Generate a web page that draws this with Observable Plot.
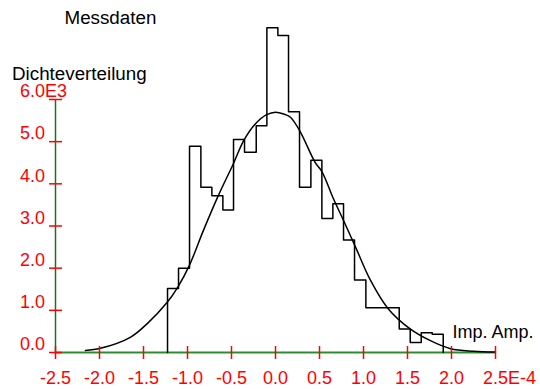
<!DOCTYPE html>
<html>
<head>
<meta charset="utf-8">
<script src="https://cdn.jsdelivr.net/npm/d3@7"></script>
<script src="https://cdn.jsdelivr.net/npm/@observablehq/plot@0.6"></script>
<style>
  html, body { margin: 0; padding: 0; background: #fff; }
  #chart svg { display: block; }
</style>
</head>
<body>
<div id="chart"></div>
<script>
// Histogram (Messdaten): bin edges (x in units of 1E-4) and density values
const binEdges = [-1.227, -1.102, -0.977, -0.848, -0.723, -0.598, -0.477, -0.352, -0.219, -0.098,
  0.027, 0.148, 0.273, 0.402, 0.527, 0.652, 0.773, 0.898, 1.027, 1.152, 1.277, 1.406, 1.531,
  1.656, 1.781, 1.906];
const binDensity = [1520, 2000, 4890, 3920, 3720, 3380, 5050, 4750, 5380, 7700, 7520, 5710, 3920,
  4560, 3180, 3530, 2670, 1720, 1060, 1060, 1060, 560, 240, 470, 430];

// Fitted density curve
const curveX = [-2.16, -1.99, -1.65, -1.46, -1.23, -1.11, -0.98, -0.82, -0.65, -0.48, -0.36, -0.23,
  -0.10, 0.00, 0.10, 0.17, 0.28, 0.45, 0.53, 0.66, 0.78, 0.91, 1.08, 1.28, 1.53, 1.76, 1.99, 2.25, 2.50];
const curveY = [50, 100, 360, 680, 1190, 1550, 2060, 2890, 3720, 4470, 5030, 5420,
  5640, 5700, 5650, 5580, 5240, 4510, 4280, 3640, 3100, 2500, 1710, 1040, 560, 280, 90, 30, 10];

// Axes ticks and labels
const xTicks = [-2.5, -2.0, -1.5, -1.0, -0.5, 0.0, 0.5, 1.0, 1.5, 2.0, 2.5];
const xTickLabels = ["-2.5", "-2.0", "-1.5", "-1.0", "-0.5", "0.0", "0.5", "1.0", "1.5", "2.0", "2.5"];
const xExponent = "E-4";
const yTicks = [0, 1000, 2000, 3000, 4000, 5000, 6000];
const yTickLabels = ["0.0", "1.0", "2.0", "3.0", "4.0", "5.0", "6.0"];
const yExponent = "E3";
const titleText = "Messdaten";
const yTitle = "Dichteverteilung";
const xTitle = "Imp. Amp.";

// Build step outline table
const steps = [{x: binEdges[0], y: 0}];
binDensity.forEach((v, i) => steps.push({x: binEdges[i], y: v}));
steps.push({x: binEdges[binEdges.length - 1], y: 0});
const curve = curveX.map((x, i) => ({x, y: curveY[i]}));

const FONT = 18;
const TFONT = 18.8;
const RED = "#ff0000";

const chart = Plot.plot({
  width: 540,
  height: 389,
  marginLeft: 55,
  marginRight: 45,
  marginTop: 99,
  marginBottom: 37,
  style: {fontFamily: "'Liberation Sans', Arial, Helvetica, sans-serif", background: "#fff", overflow: "visible"},
  x: {domain: [-2.5, 2.5], axis: null},
  y: {domain: [0, 6000], axis: null},
  marks: [
    // axis lines
    Plot.ruleY([0], {x1: -2.5, x2: 2.5, stroke: "#2e8b2e", strokeWidth: 2}),
    Plot.ruleX([-2.5], {y1: 0, y2: 6000, stroke: "#1f6f1f", strokeWidth: 1.5}),
    // histogram outline
    Plot.line(steps, {x: "x", y: "y", curve: "step-after", stroke: "#000", strokeWidth: 1.5}),
    // fitted curve
    Plot.line(curve, {x: "x", y: "y", curve: "catmull-rom", stroke: "#000", strokeWidth: 1.5}),
    // ticks
    Plot.ruleX(xTicks, {x: d => d, y1: 0, y2: 0, insetTop: -6, insetBottom: -7, stroke: RED, strokeWidth: 1.5}),
    Plot.ruleY(yTicks, {y: d => d, x1: -2.5, x2: -2.5, insetLeft: -6, insetRight: -7, stroke: RED, strokeWidth: 1.5}),
    // tick labels
    Plot.text(xTicks, {x: d => d, y: () => 0, text: (d, i) => xTickLabels[i], dy: 26, fill: RED, fontSize: FONT, textAnchor: "middle", lineAnchor: "middle"}),
    Plot.text([xExponent], {x: () => 2.5, y: () => 0, text: d => d, dx: 12.5, dy: 26, fill: RED, fontSize: FONT, textAnchor: "start", lineAnchor: "middle"}),
    Plot.text(yTicks, {x: () => -2.5, y: d => d, text: (d, i) => yTickLabels[i], dx: -10.5, dy: -8, fill: RED, fontSize: FONT, textAnchor: "end", lineAnchor: "middle"}),
    Plot.text([yExponent], {x: () => -2.5, y: () => 6000, text: d => d, dx: -10.5, dy: -8, fill: RED, fontSize: FONT, textAnchor: "start", lineAnchor: "middle"}),
    // titles
    Plot.text([titleText], {frameAnchor: "top-left", text: d => d, dx: 9, dy: -82, fill: "#000", fontSize: TFONT, textAnchor: "start", lineAnchor: "middle"}),
    Plot.text([yTitle], {frameAnchor: "top-left", text: d => d, dx: -43.5, dy: -26, fill: "#000", fontSize: TFONT, textAnchor: "start", lineAnchor: "middle"}),
    Plot.text([xTitle], {frameAnchor: "top-left", text: d => d, dx: 397, dy: 233, fill: "#000", fontSize: FONT, textAnchor: "start", lineAnchor: "middle"})
  ]
});
document.getElementById("chart").appendChild(chart);
</script>
</body>
</html>
